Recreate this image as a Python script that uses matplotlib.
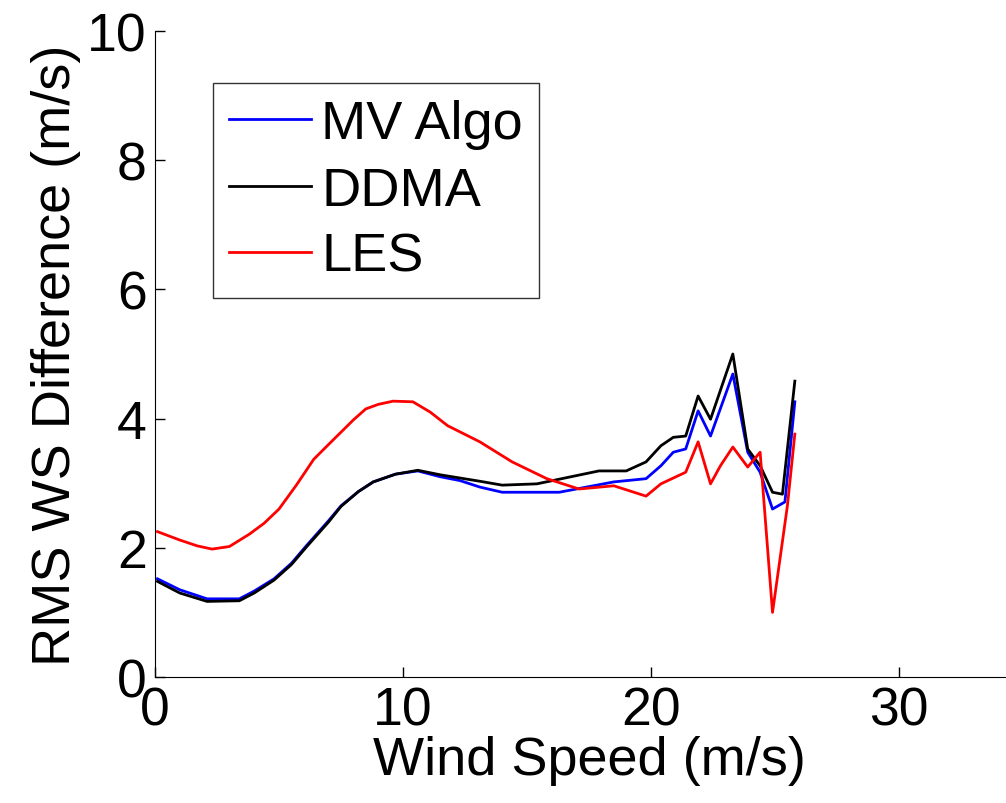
import matplotlib.pyplot as plt

# Dados
ws_mv = [0.1, 1.0, 2.1, 3.4, 4.0, 4.8, 5.5, 6.1, 7.0, 7.5, 8.2, 8.8, 9.7, 10.6, 11.5, 12.3, 13.1,
         14.0, 15.0, 16.3, 17.4, 18.5, 19.8, 20.4, 20.9, 21.4, 21.9, 22.4, 23.3, 23.9, 24.4,
         24.9, 25.4, 25.8]
rms_mv = [1.52, 1.35, 1.21, 1.21, 1.33, 1.52, 1.76, 2.03, 2.42, 2.65, 2.87, 3.02, 3.14, 3.19, 3.10,
          3.04, 2.94, 2.86, 2.86, 2.86, 2.94, 3.02, 3.07, 3.27, 3.48, 3.53, 4.12, 3.73, 4.69,
          3.48, 3.17, 2.60, 2.71, 4.26]

ws_ddma = [0.1, 1.0, 2.1, 3.4, 4.0, 4.8, 5.5, 6.1, 7.0, 7.5, 8.2, 8.8, 9.7, 10.6, 11.5, 12.3,
           13.1, 14.0, 15.4, 16.9, 17.9, 19.0, 19.8, 20.4, 20.9, 21.4, 21.9, 22.4, 23.3, 23.9,
           24.4, 24.9, 25.3, 25.8]
rms_ddma = [1.48, 1.30, 1.17, 1.18, 1.30, 1.50, 1.74, 2.01, 2.40, 2.64, 2.87, 3.02, 3.14, 3.20,
            3.13, 3.08, 3.03, 2.97, 2.99, 3.11, 3.19, 3.19, 3.33, 3.58, 3.71, 3.73, 4.35, 3.99,
            5.00, 3.53, 3.27, 2.86, 2.83, 4.58]

ws_les = [0.1, 1.0, 1.7, 2.3, 3.0, 3.8, 4.4, 5.0, 5.7, 6.4, 7.0, 7.5, 8.0, 8.5, 9.0, 9.6, 10.4,
          11.1, 11.8, 13.1, 14.4, 15.8, 17.1, 18.5, 19.8, 20.4, 21.4, 21.9, 22.4, 22.8, 23.3,
          23.9, 24.4, 24.9, 25.5, 25.8]
rms_les = [2.25, 2.12, 2.03, 1.98, 2.02, 2.21, 2.38, 2.60, 2.97, 3.37, 3.60, 3.79, 3.98, 4.15,
           4.22, 4.27, 4.26, 4.10, 3.89, 3.64, 3.33, 3.07, 2.91, 2.96, 2.80, 2.99, 3.17, 3.64,
           2.99, 3.27, 3.56, 3.25, 3.48, 1.00, 2.65, 3.76]

plt.rcParams['font.family'] = ['Liberation Sans', 'DejaVu Sans']

fig = plt.figure(figsize=(10.06, 8.04), dpi=100)
ax = fig.add_axes([155 / 1006, 126 / 804, 868 / 1006, 646 / 804])

ax.plot(ws_mv, rms_mv, color='#0000ff', lw=2, label='MV Algo')
ax.plot(ws_ddma, rms_ddma, color='black', lw=2, label='DDMA')
ax.plot(ws_les, rms_les, color='#ff0000', lw=2, label='LES')

ax.set_xlim(0, 35)
ax.set_ylim(0, 10)
ax.set_xticks([0, 10, 20, 30])
ax.set_yticks([0, 2, 4, 6, 8, 10])
ax.tick_params(direction='in', length=7, width=1, labelsize=38.5, pad=6)
ax.spines['top'].set_visible(False)
ax.spines['right'].set_visible(False)

ax.set_xlabel('Wind Speed (m/s)', fontsize=39, labelpad=0)
ax.set_ylabel('RMS WS Difference (m/s)', fontsize=39, labelpad=4)

leg = ax.legend(loc='upper left', bbox_to_anchor=(58 / 868, 1 - 52 / 646), fontsize=39,
                frameon=True, fancybox=False, edgecolor='black', handlelength=1.5,
                handletextpad=0.2, borderpad=0.3, labelspacing=0.3, borderaxespad=0)
leg.get_frame().set_linewidth(1)

fig.savefig('out.png', dpi=100)
